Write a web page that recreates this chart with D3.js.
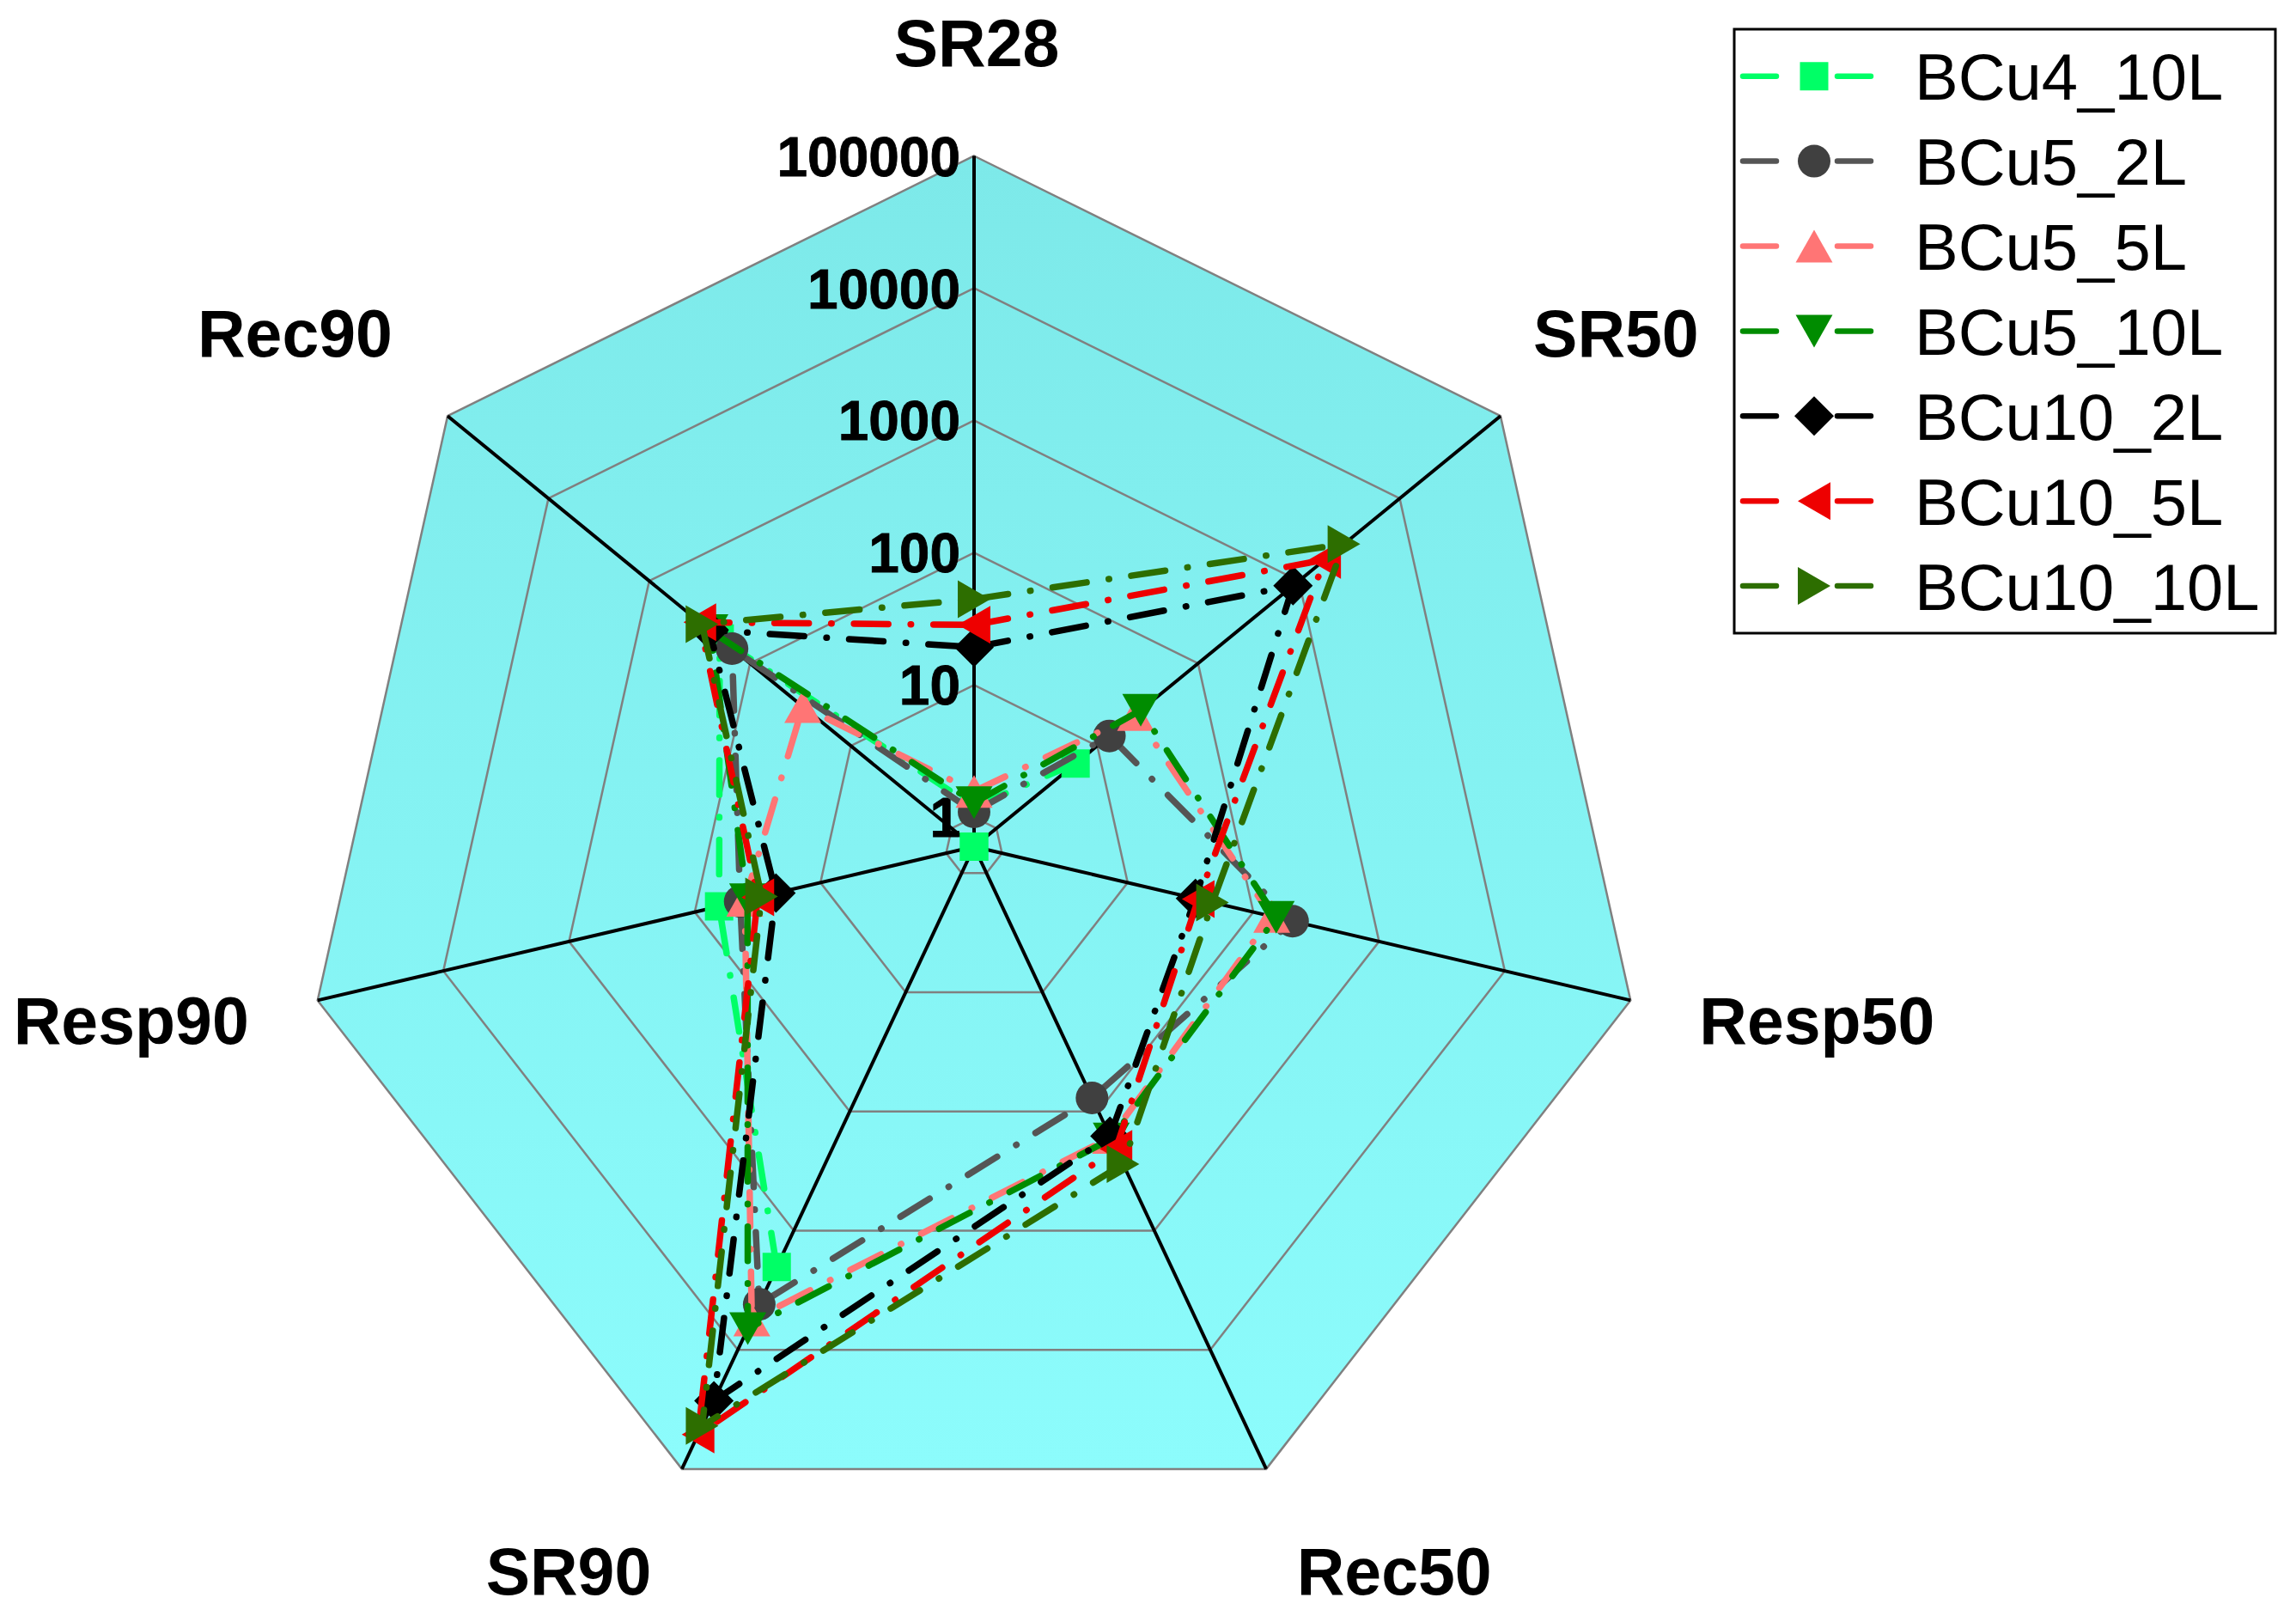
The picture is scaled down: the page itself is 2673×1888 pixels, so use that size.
<!DOCTYPE html>
<html>
<head>
<meta charset="utf-8">
<script src="https://cdn.jsdelivr.net/npm/d3@7"></script>
<style>
  body { margin: 0; background: #fff; }
  text { font-family: "Liberation Sans", Arial, sans-serif; }
</style>
</head>
<body>
<div id="chart"></div>
<script>
// radar axes, clockwise from top
const axes = ["SR28", "SR50", "Resp50", "Rec50", "SR90", "Resp90", "Rec90"];
const ticks = [1, 10, 100, 1000, 10000, 100000];
const tickLabels = ["1", "10", "100", "1000", "10000", "100000"];

const seriesNames = ["BCu4_10L", "BCu5_2L", "BCu5_5L", "BCu5_10L", "BCu10_2L", "BCu10_5L", "BCu10_10L"];
// values per axis, same order as `axes` (0 = not plotted, marker sits at centre)
const bcu4_10L  = [1.2, 6.1, 0, 0, 2020, 64, 200];
const bcu5_2L   = [1.1, 13.2, 205, 77, 4150, 43.5, 151];
const bcu5_5L   = [1.57, 24, 140, 165, 5630, 40, 30];
const bcu5_10L  = [1.29, 27, 152, 170, 6650, 38, 250];
const bcu10_2L  = [19.3, 875, 34.6, 161, 26800, 22.6, 254];
const bcu10_5L  = [28.5, 1800, 36.4, 206, 51400, 31.5, 315];
const bcu10_10L = [44.6, 2800, 47.3, 276, 43500, 29.4, 300];

const seriesValues = [bcu4_10L, bcu5_2L, bcu5_5L, bcu5_10L, bcu10_2L, bcu10_5L, bcu10_10L];
const lineColors   = ["#00ff66", "#555555", "#ff7575", "#008c00", "#000000", "#ee0000", "#2d6e00"];
const markColors   = ["#00ff66", "#404040", "#ff7575", "#008c00", "#000000", "#ee0000", "#2d6e00"];
const shapes       = ["square", "circle", "up", "down", "diamond", "left", "right"];

const W = 2673, H = 1888;
const cx = 1134, cy = 985.5, R = 804, kx = 0.975;

const svg = d3.select("#chart").append("svg")
  .attr("width", W).attr("height", H);

const r = d3.scaleLog().domain([0.6, 100000]).range([0, R]).clamp(true);
const angle = d3.scalePoint().domain(axes).range([0, 2 * Math.PI * 6 / 7]);

const pt = (axis, v) => {
  const a = angle(axis), d = r(v);
  return [cx + kx * d * Math.sin(a), cy - d * Math.cos(a)];
};

const defs = svg.append("defs");
const grad = defs.append("linearGradient").attr("id", "bg")
  .attr("x1", 0).attr("y1", 0).attr("x2", 0).attr("y2", 1);
grad.append("stop").attr("offset", "0%").attr("stop-color", "#7de9e9");
grad.append("stop").attr("offset", "100%").attr("stop-color", "#8cfcfc");

const ring = v => axes.map(a => pt(a, v));
const poly = d3.line().curve(d3.curveLinearClosed);

// background
svg.append("path").attr("d", poly(ring(100000))).attr("fill", "url(#bg)");

// rings
svg.selectAll(".ring").data(ticks).enter().append("path")
  .attr("class", "ring")
  .attr("d", d => poly(ring(d)))
  .attr("fill", "none").attr("stroke", "#808080").attr("stroke-width", 2.5);

// spokes
svg.selectAll(".spoke").data(axes).enter().append("line")
  .attr("class", "spoke")
  .attr("x1", cx).attr("y1", cy)
  .attr("x2", d => pt(d, 100000)[0]).attr("y2", d => pt(d, 100000)[1])
  .attr("stroke", "#000").attr("stroke-width", 4);

// tick labels on SR28 axis
svg.selectAll(".tick").data(ticks).enter().append("text")
  .attr("class", "tick")
  .attr("x", cx - 16).attr("y", d => pt("SR28", d)[1])
  .attr("dy", "0.36em")
  .attr("text-anchor", "end")
  .attr("font-size", 64).attr("font-weight", "bold")
  .attr("stroke", "#000").attr("stroke-width", 0.8)
  .text((d, i) => tickLabels[i]);

// axis labels (small per-axis nudges to sit like the original)
const nudgeX = { SR50: -26 };
svg.selectAll(".axlab").data(axes).enter().append("text")
  .attr("class", "axlab")
  .attr("x", d => {
    const a = angle(d);
    return (a === 0 ? cx + 3 : cx + 866 * Math.sin(a)) + (nudgeX[d] || 0);
  })
  .attr("y", d => {
    const a = angle(d);
    return (a === 0 ? cy - 927 : cy - 945 * Math.cos(a)) - 9;
  })
  .attr("dy", "0.36em")
  .attr("text-anchor", d => {
    const s = Math.sin(angle(d));
    return Math.abs(s) < 0.01 ? "middle" : (s > 0 ? "start" : "end");
  })
  .attr("font-size", 77).attr("font-weight", "bold")
  .text(d => d);

// marker paths
function marker(shape) {
  switch (shape) {
    case "square": return "M-16.5,-16.5H16.5V16.5H-16.5Z";
    case "circle": return "M19,0A19,19 0 1 1 -19,0A19,19 0 1 1 19,0Z";
    case "up": return "M0,-19L21.5,19L-21.5,19Z";
    case "down": return "M0,19L21.5,-19L-21.5,-19Z";
    case "left": return "M-19,0L19,-22L19,22Z";
    case "right": return "M19,0L-19,-22L-19,22Z";
    case "diamond": return "M0,-23L23,0L0,23L-23,0Z";
  }
}

const dash = "40 26 0.5 26";

seriesValues.forEach((vals, si) => {
  const pts = axes.map((a, i) => ({ axis: a, v: vals[i] }));
  const closed = pts.concat([pts[0]]);
  const line = d3.line()
    .defined(d => d.v > 0)
    .x(d => pt(d.axis, d.v)[0])
    .y(d => pt(d.axis, d.v)[1]);
  const g = svg.append("g").attr("class", "series");
  g.append("path")
    .attr("d", line(closed))
    .attr("fill", "none")
    .attr("stroke", lineColors[si])
    .attr("stroke-width", 7.5)
    .attr("stroke-linecap", "round")
    .attr("stroke-dasharray", dash);
  g.selectAll(".mk").data(pts).enter().append("path")
    .attr("class", "mk")
    .attr("transform", d => `translate(${pt(d.axis, d.v)})`)
    .attr("d", marker(shapes[si]))
    .attr("fill", markColors[si]);
});

// legend
const lg = svg.append("g").attr("class", "legend");
lg.append("rect")
  .attr("x", 2019).attr("y", 34).attr("width", 630).attr("height", 703)
  .attr("fill", "#fff").attr("stroke", "#000").attr("stroke-width", 3);

const rows = lg.selectAll(".row").data(seriesNames).enter().append("g")
  .attr("class", "row")
  .attr("transform", (d, i) => `translate(0,${88.7 + i * 98.9})`);

rows.append("line")
  .attr("x1", 2029).attr("x2", 2178).attr("y1", 0).attr("y2", 0)
  .attr("stroke", (d, i) => lineColors[i])
  .attr("stroke-width", 6.5)
  .attr("stroke-linecap", "round")
  .attr("stroke-dasharray", "39 71");

rows.append("path")
  .attr("transform", "translate(2112,0)")
  .attr("d", (d, i) => marker(shapes[i]))
  .attr("fill", (d, i) => markColors[i]);

rows.append("text")
  .attr("x", 2229).attr("y", 27.5)
  .attr("font-size", 76)
  .text(d => d);
</script>
</body>
</html>
